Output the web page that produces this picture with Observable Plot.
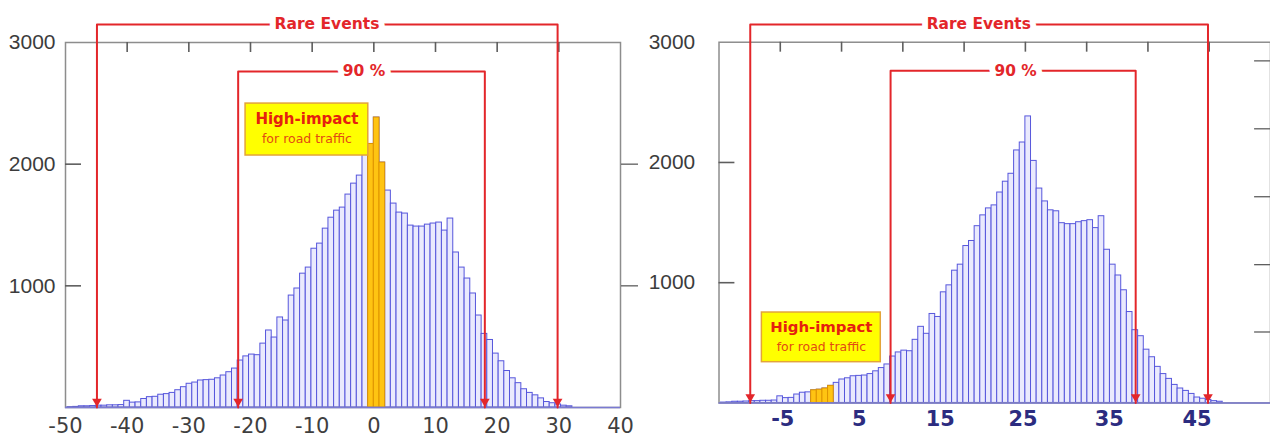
<!DOCTYPE html>
<html><head><meta charset="utf-8">
<script src="https://cdn.jsdelivr.net/npm/d3@7"></script>
<script src="https://cdn.jsdelivr.net/npm/@observablehq/plot@0.6"></script>
<style>
html,body{margin:0;padding:0;background:#fff;overflow:hidden;width:1270px;height:437px;}
#left{position:absolute;left:0;top:0;}
#right{position:absolute;left:640px;top:0;}
</style></head><body>
<div id="left"></div><div id="right"></div>
<script>
// ---------- data ----------
const binWidth = 0.92;          // width of one histogram class
const firstBin = -54;           // index of the first class
const counts = [
  3, 5, 10, 10, 12, 15, 15, 18, 18, 20,
  55, 40, 42, 70, 85, 88, 105, 110, 120, 142,
  167, 195, 205, 222, 225, 228, 240, 263, 290, 320,
  386, 420, 435, 430, 525, 633, 575, 740, 715, 920,
  978, 1100, 1150, 1305, 1347, 1470, 1560, 1618, 1643, 1750,
  1840, 1906, 2100, 2166, 2383, 2013, 1783, 1676, 1602, 1594,
  1495, 1487, 1487, 1503, 1512, 1520, 1454, 1553, 1274, 1150,
  1060, 937, 756, 605, 555, 443, 380, 300, 240, 200,
  150, 120, 100, 75, 45, 35, 25, 15, 10
];
const highlightLeft = [-1, 0, 1];            // classes marked high-impact (left)
const highlightRight = [-38, -37, -36, -35]; // classes marked high-impact (right)
const rareBounds = [-44.9, 29.8];
const ninetyBounds = [-22.0, 18.0];
const leftTicks = [-50, -40, -30, -20, -10, 0, 10, 20, 30, 40];
const topTicks = [-40, -30, -20, -10, 0, 10, 20, 30];
const rightTickPos = [-39.6, -27.1, -13.9, -0.4, 13.7, 28.0];
const rightTickLabels = ["-5", "5", "15", "25", "35", "45"];
const yLabels = [1000, 2000, 3000];
const yInnerTicks = [1000, 2000];
const farRightTicks = [590, 1150, 1715, 2280, 2845];

const bins = counts.map((c, i) => ({
  bin: firstBin + i,
  x1: (firstBin + i) * binWidth,
  x2: (firstBin + i + 1) * binWidth,
  y: c
}));

// ---------- layout of annotations ----------
const RARE_Y = 3148, NINETY_Y = 2762;
const rareTextX = -7.6, ninetyTextX = -1.6;
const leftBox = {x1: -20.8, x2: -0.9, y1: 2071, y2: 2498, ty1: 2367, ty2: 2203};
const rightBox = {x1: -43.0, x2: -23.6, y1: 339, y2: 752, ty1: 628, ty2: 463};
const FRAME_W = 555;

const red = "#e3262a";
const gold = "#ffc412";
const tickColor = "#5e5e5e";

function bracket(bounds, level) {
  return [
    {x: bounds[0], y: 0}, {x: bounds[0], y: level},
    {x: bounds[1], y: level}, {x: bounds[1], y: 0}
  ];
}

function commonMarks(highlight, box, frameH) {
  const cx = (box.x1 + box.x2) / 2;
  return [
    Plot.rectY(bins, {x1: "x1", x2: "x2", y: "y", fill: "#eaeafd", stroke: "#5656dc", strokeWidth: 1}),
    Plot.rectY(bins.filter(d => highlight.includes(d.bin)), {x1: "x1", x2: "x2", y: "y", fill: gold, stroke: "#df9400", strokeWidth: 1}),
    Plot.frame({stroke: "#8d8d8d", strokeWidth: 1.5}),
    Plot.ruleY([0], {stroke: "#7a7ad2", strokeWidth: 1.5}),
    // inward ticks on top frame
    Plot.ruleX(topTicks, {x: d => d, insetBottom: frameH - 10, stroke: tickColor, strokeWidth: 1.6}),
    // inward ticks on left frame
    Plot.ruleY(yInnerTicks, {y: d => d, insetRight: FRAME_W - 16, stroke: tickColor, strokeWidth: 1.6}),
    Plot.line(bracket(rareBounds, RARE_Y), {x: "x", y: "y", stroke: red, strokeWidth: 2}),
    Plot.line(bracket(ninetyBounds, NINETY_Y), {x: "x", y: "y", stroke: red, strokeWidth: 2}),
    Plot.dot(rareBounds.concat(ninetyBounds), {x: d => d, y: () => 0, symbol: "triangle", r: 3.6, rotate: 180, fill: red, stroke: null, dy: -6}),
    Plot.text([{x: rareTextX, y: RARE_Y, t: "Rare Events"}], {x: "x", y: "y", text: "t", fill: red, stroke: "white", strokeWidth: 12, paintOrder: "stroke", fontWeight: "bold", fontSize: 15.5, fontFamily: "DejaVu Sans"}),
    Plot.text([{x: ninetyTextX, y: NINETY_Y, t: "90 %"}], {x: "x", y: "y", text: "t", fill: red, stroke: "white", strokeWidth: 12, paintOrder: "stroke", fontWeight: "bold", fontSize: 15.5, fontFamily: "DejaVu Sans"}),
    Plot.rect([box], {x1: "x1", x2: "x2", y1: "y1", y2: "y2", fill: "#ffff00", stroke: "#e3a43a", strokeWidth: 1.5}),
    Plot.text([{x: cx, y: box.ty1, t: "High-impact"}], {x: "x", y: "y", text: "t", fill: "#e5200f", fontWeight: "bold", fontSize: 15, fontFamily: "DejaVu Sans"}),
    Plot.text([{x: cx, y: box.ty2, t: "for road traffic"}], {x: "x", y: "y", text: "t", fill: "#e34a12", fontSize: 12.5, fontFamily: "DejaVu Sans"})
  ];
}

const leftPlot = Plot.plot({
  width: 640, height: 437,
  marginLeft: 65, marginRight: 20, marginTop: 42, marginBottom: 30,
  x: {domain: [-50, 40]},
  y: {domain: [0, 3000]},
  style: {fontFamily: "DejaVu Sans", background: "transparent", overflow: "visible"},
  marks: [
    ...commonMarks(highlightLeft, leftBox, 365),
    Plot.axisX(leftTicks, {anchor: "bottom", tickSize: 0, tickPadding: 11, tickFormat: d => String(d), fontSize: 21, fontFamily: "DejaVu Sans", fill: "#3f3f3f"}),
    Plot.axisY(yLabels, {anchor: "left", tickSize: 0, tickPadding: 10, tickFormat: d => String(d), fontSize: 21, fontFamily: "Liberation Sans", fill: "#3c3c3c"}),
    Plot.axisY(yInnerTicks, {anchor: "right", tickSize: 17, fill: null, stroke: tickColor, strokeWidth: 1.3})
  ]
});

const rightPlot = Plot.plot({
  width: 634, height: 437,
  marginLeft: 79, marginRight: 0, marginTop: 42, marginBottom: 32,
  x: {domain: [-50, 40]},
  y: {domain: [0, 3000]},
  style: {fontFamily: "DejaVu Sans", background: "transparent", overflow: "visible"},
  marks: [
    ...commonMarks(highlightRight, rightBox, 363),
    Plot.axisX(rightTickPos, {anchor: "bottom", tickSize: 0, tickPadding: 8, tickFormat: d => rightTickLabels[rightTickPos.indexOf(d)], fontSize: 21, fontWeight: "bold", fontFamily: "DejaVu Sans", fill: "#2c2c80"}),
    Plot.axisY(yLabels, {anchor: "left", tickSize: 0, tickPadding: 24, tickFormat: d => String(d), fontSize: 21, fontFamily: "Liberation Sans", fill: "#3c3c3c"}),
    Plot.axisY(farRightTicks, {anchor: "right", tickSize: 17, dx: -17, fill: null, stroke: tickColor, strokeWidth: 1.3})
  ]
});

document.getElementById("left").appendChild(leftPlot);
document.getElementById("right").appendChild(rightPlot);
</script>
</body></html>
